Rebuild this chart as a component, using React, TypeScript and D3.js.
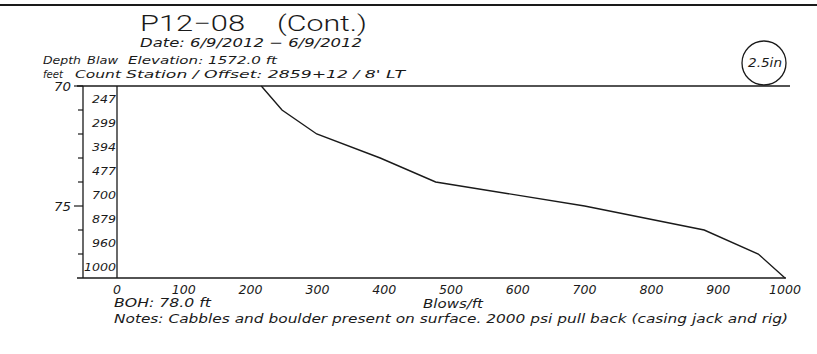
import React, { useEffect, useRef } from 'react';
import * as d3 from 'd3';

// depth (ft) at the bottom of each 1-ft interval, and the blow count for it
const depthBottoms = [71, 72, 73, 74, 75, 76, 77, 78];
const blowCounts = [247, 299, 394, 477, 700, 879, 960, 1000];
// value carried over from the previous page at the top of the chart
const topDepth = 70;
const topBlows = 216;

const xTicks = [0, 100, 200, 300, 400, 500, 600, 700, 800, 900, 1000];
const depthLabels = [70, 75];
const depthMinor = [71, 72, 73, 74, 76, 77];

const FONT = '"DejaVu Sans", "Liberation Sans", sans-serif';
const INK = '#1a1a1a';

export default function App() {
  const svgRef = useRef<SVGSVGElement>(null);

  useEffect(() => {
    if (!svgRef.current) return;
    const svg = d3.select(svgRef.current);
    svg.selectAll('*').remove();

    const x = d3.scaleLinear().domain([0, 1000]).range([117, 785]);
    const y = d3.scaleLinear().domain([70, 78]).range([86, 278]);

    const txt = (
      s: string, tx: number, ty: number, size: number,
      opts: { italic?: boolean; anchor?: string; len?: number } = {}
    ) => {
      const t = svg.append('text')
        .attr('x', tx).attr('y', ty)
        .attr('font-family', FONT)
        .attr('font-size', size)
        .attr('font-style', opts.italic === false ? 'normal' : 'italic')
        .attr('text-anchor', opts.anchor || 'start')
        .attr('fill', INK)
        .text(s);
      if (opts.len) t.attr('textLength', opts.len).attr('lengthAdjust', 'spacingAndGlyphs');
      return t;
    };

    // page rule at the top
    svg.append('line').attr('x1', 0).attr('x2', 817).attr('y1', 5).attr('y2', 5)
      .attr('stroke', INK).attr('stroke-width', 2);

    // header
    txt('P12−08', 140, 31, 22, { italic: false, len: 105 })
      .attr('font-family', 'Roboto, "DejaVu Sans", sans-serif').attr('font-weight', 300);
    txt('(Cont.)', 277, 31, 22, { italic: false, len: 90 })
      .attr('font-family', 'Roboto, "DejaVu Sans", sans-serif').attr('font-weight', 300);
    txt('Date:  6/9/2012  −  6/9/2012', 140, 46.5, 12.5, { len: 222 });
    txt('Depth', 43, 64, 11, { len: 38 });
    txt('Blaw', 87, 64, 11, { len: 31 });
    txt('Elevation: 1572.0 ft', 128, 64, 11, { len: 149 });
    txt('feet', 43, 78, 11, { len: 20 });
    txt('Count', 75, 78, 11, { len: 46 });
    txt('Station  /  Offset:  2859+12  /  8\' LT', 126, 78, 11, { len: 279 });

    // 2.5in circle
    svg.append('circle').attr('cx', 764).attr('cy', 63).attr('r', 22)
      .attr('fill', 'none').attr('stroke', INK).attr('stroke-width', 1.3);
    txt('2.5in', 765, 67, 11.5, { anchor: 'middle', len: 34 });

    // frame lines
    const line = (x1: number, y1: number, x2: number, y2: number, w = 1.3) =>
      svg.append('line').attr('x1', x1).attr('y1', y1).attr('x2', x2).attr('y2', y2)
        .attr('stroke', INK).attr('stroke-width', w);

    line(77, y(70), 790, y(70), 1.6);
    line(77, y(78), 786, y(78), 1.6);
    line(83, y(70), 83, y(78));
    line(x(0), y(70), x(0), y(78));

    depthMinor.forEach((d) => line(78, y(d), 83, y(d), 1.2));
    depthLabels.forEach((d) => {
      line(74, y(d), 83, y(d), 1.2);
      txt(String(d), 71, y(d) + 4.5, 12.5, { anchor: 'end', len: 17 });
    });

    // blow count column
    blowCounts.forEach((b, i) => {
      const mid = depthBottoms[i] - 0.5;
      const s = String(b);
      txt(s, x(0) - 1, y(mid) + 4.5, 11, { anchor: 'end', len: s.length * 8 });
    });

    // x tick labels
    xTicks.forEach((t) => {
      const s = String(t);
      txt(s, x(t), 294, 12.5, { anchor: 'middle', len: s.length * 8 });
    });

    // blow count curve
    const pts: [number, number][] = [[topBlows, topDepth]];
    blowCounts.forEach((b, i) => pts.push([b, depthBottoms[i]]));
    const path = d3.line<[number, number]>().x((d) => x(d[0])).y((d) => y(d[1]));
    svg.append('path').attr('d', path(pts) || '')
      .attr('fill', 'none').attr('stroke', INK).attr('stroke-width', 1.4);

    // footer
    txt('BOH:  78.0 ft', 114, 307, 11.5, { len: 97 });
    txt('Blows/ft', 423, 308, 11.5, { len: 60 });
    txt('Notes:  Cabbles and boulder present on surface.   2000 psi pull back (casing jack and rig)', 114, 323, 11.5, { len: 674 });
  }, []);

  return (
    <svg ref={svgRef} width={817} height={354}
      style={{ position: 'absolute', left: 0, top: 0, background: '#fff' }} />
  );
}
